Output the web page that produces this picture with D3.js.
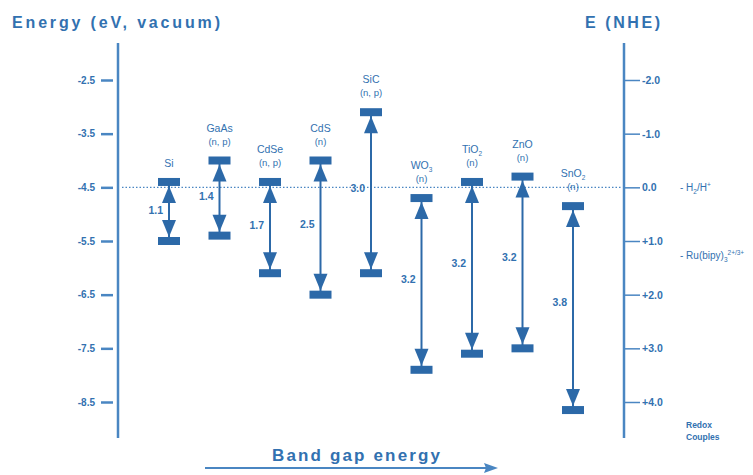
<!DOCTYPE html>
<html>
<head>
<meta charset="utf-8">
<script src="https://cdn.jsdelivr.net/npm/d3@7"></script>
<style>
  body { margin: 0; background: #fff; }
  svg { display: block; }
</style>
</head>
<body>
<svg id="chart" width="753" height="475"></svg>
<script>
// Semiconductor band edges on the vacuum scale (eV)
const materials = ["Si", "GaAs", "CdSe", "CdS", "SiC", "WO3", "TiO2", "ZnO", "SnO2"];
const carriers = ["", "(n, p)", "(n, p)", "(n)", "(n, p)", "(n)", "(n)", "(n)", "(n)"];
const conductionBand = [-4.4, -4.0, -4.4, -4.0, -3.1, -4.7, -4.4, -4.3, -4.85];
const bandGap = [1.1, 1.4, 1.7, 2.5, 3.0, 3.2, 3.2, 3.2, 3.8];

// Axis ticks
const vacuumTicks = [-2.5, -3.5, -4.5, -5.5, -6.5, -7.5, -8.5];
const nheTicks = [-2, -1, 0, 1, 2, 3, 4];
const nheTickLabels = ["-2.0", "-1.0", "0.0", "+1.0", "+2.0", "+3.0", "+4.0"];

// Reference redox couples (V vs NHE)
const redoxNames = ["H2/H+", "Ru(bipy)3"];
const redoxPotentials = [0, 1.26];

const blue = "#2c69a8";
const textBlue = "#3271b0";
const lineBlue = "#4a86c2";
const font = "'Liberation Sans', Arial, sans-serif";

const svg = d3.select("#chart").style("font-family", font);

const yVac = d3.scaleLinear().domain([-2.5, -8.5]).range([80, 402]);
const yNhe = d3.scaleLinear().domain([-2, 4]).range([80, 402]);
const x = d3.scalePoint().domain(materials).range([169, 573]);

// Titles
svg.append("text").attr("x", 12).attr("y", 28)
  .attr("textLength", 208).attr("lengthAdjust", "spacing")
  .attr("font-size", 16).attr("font-weight", "bold").attr("fill", textBlue)
  .text("Energy (eV, vacuum)");
svg.append("text").attr("x", 585).attr("y", 28)
  .attr("textLength", 75).attr("lengthAdjust", "spacing")
  .attr("font-size", 16).attr("font-weight", "bold").attr("fill", textBlue)
  .text("E (NHE)");

// Left (vacuum) axis
const left = svg.append("g").attr("transform", "translate(113,0)")
  .call(d3.axisLeft(yVac).tickValues(vacuumTicks).tickSize(12).tickPadding(6)
    .tickFormat(d => d.toFixed(1)));
left.select(".domain").remove();
left.selectAll(".tick line").attr("stroke", lineBlue).attr("stroke-width", 2.5);
left.selectAll(".tick text").attr("fill", textBlue).attr("font-size", 10)
  .attr("font-weight", "bold").attr("font-family", font);
svg.append("line").attr("x1", 118).attr("x2", 118).attr("y1", 43).attr("y2", 438)
  .attr("stroke", lineBlue).attr("stroke-width", 2.5);

// Right (NHE) axis
const right = svg.append("g").attr("transform", "translate(625,0)")
  .call(d3.axisRight(yNhe).tickValues(nheTicks).tickSize(15).tickPadding(2)
    .tickFormat((d, i) => nheTickLabels[i]));
right.select(".domain").remove();
right.selectAll(".tick line").attr("stroke", lineBlue).attr("stroke-width", 1.5);
right.selectAll(".tick text").attr("fill", textBlue).attr("font-size", 10.5)
  .attr("font-weight", "bold").attr("font-family", font);
svg.append("line").attr("x1", 624).attr("x2", 624).attr("y1", 43).attr("y2", 438)
  .attr("stroke", lineBlue).attr("stroke-width", 2.5);

// H2/H+ reference level
svg.append("line").attr("x1", 122).attr("x2", 622)
  .attr("y1", yNhe(0)).attr("y2", yNhe(0))
  .attr("stroke", lineBlue).attr("stroke-width", 1.2).attr("stroke-dasharray", "1.5,2");

// Redox couple labels
function richText(sel, parts) {
  parts.forEach(p => {
    const t = sel.append("tspan").text(p.t);
    if (p.sub) t.attr("font-size", "0.65em").attr("dy", 3);
    if (p.sup) t.attr("font-size", "0.65em").attr("dy", -4);
    if (p.reset) t.attr("dy", p.reset);
  });
}
const redoxParts = [
  [{ t: "- H" }, { t: "2", sub: true }, { t: "/H", reset: -3 }, { t: "+", sup: true }],
  [{ t: "- Ru(bipy)" }, { t: "3", sub: true }, { t: "2+/3+", sup: true, reset: -7 }]
];
redoxPotentials.forEach((v, i) => {
  const t = svg.append("text").attr("x", 680).attr("y", yNhe(v) + 4)
    .attr("font-size", 10).attr("fill", textBlue);
  richText(t, redoxParts[i]);
});
svg.append("text").attr("x", 686).attr("y", 428).attr("font-size", 8.5)
  .attr("font-weight", "bold").attr("fill", textBlue).text("Redox");
svg.append("text").attr("x", 686).attr("y", 440).attr("font-size", 8.5)
  .attr("font-weight", "bold").attr("fill", textBlue).text("Couples");

// Band diagrams
const bands = materials.map((m, i) => ({
  name: m, carrier: carriers[i], cb: conductionBand[i], gap: bandGap[i],
  vb: +(conductionBand[i] - bandGap[i]).toFixed(2)
}));

const barW = 22, barH = 8, triW = 14, triH = 17;
const g = svg.append("g").selectAll("g").data(bands).join("g")
  .attr("transform", d => `translate(${x(d.name)},0)`);

g.append("line").attr("x1", 0).attr("x2", 0)
  .attr("y1", d => yVac(d.cb)).attr("y2", d => yVac(d.vb))
  .attr("stroke", blue).attr("stroke-width", 2);

g.append("rect").attr("x", -barW / 2).attr("width", barW).attr("height", barH)
  .attr("y", d => yVac(d.cb) - barH / 2).attr("fill", blue);
g.append("rect").attr("x", -barW / 2).attr("width", barW).attr("height", barH)
  .attr("y", d => yVac(d.vb) - barH / 2).attr("fill", blue);

g.append("path").attr("fill", blue).attr("d", d => {
  const t = yVac(d.cb) + barH / 2;
  return `M0,${t}L${triW / 2},${t + triH}L${-triW / 2},${t + triH}Z`;
});
g.append("path").attr("fill", blue).attr("d", d => {
  const t = yVac(d.vb) - barH / 2;
  return `M0,${t}L${triW / 2},${t - triH}L${-triW / 2},${t - triH}Z`;
});

// Gap value next to each arrow
g.append("text").attr("x", -6).attr("text-anchor", "end")
  .attr("y", d => yVac(d.cb) + (yVac(d.vb) - yVac(d.cb)) * 0.47 + 4)
  .attr("font-size", 10.5).attr("font-weight", "bold").attr("fill", textBlue)
  .text(d => d.gap.toFixed(1));

// Material name and carrier type above the conduction band
g.each(function (d) {
  const top = yVac(d.cb) - barH / 2;
  const gg = d3.select(this);
  const nameY = d.carrier ? top - 25 : top - 11;
  const t = gg.append("text").attr("y", nameY).attr("text-anchor", "middle")
    .attr("font-size", 10.5).attr("fill", textBlue);
  const m = d.name.match(/^([A-Za-z]+)(\d?)$/);
  t.append("tspan").text(m[1]);
  if (m[2]) t.append("tspan").attr("font-size", 6.5).attr("dy", 3).text(m[2]);
  if (d.carrier) {
    gg.append("text").attr("y", top - 12).attr("text-anchor", "middle")
      .attr("font-size", 9.5).attr("fill", textBlue).text(d.carrier);
  }
});

// Band gap energy direction
svg.append("text").attr("x", 272).attr("y", 461)
  .attr("textLength", 168).attr("lengthAdjust", "spacing")
  .attr("font-size", 17).attr("font-weight", "bold").attr("fill", textBlue)
  .text("Band gap energy");
svg.append("line").attr("x1", 205).attr("x2", 494).attr("y1", 468).attr("y2", 468)
  .attr("stroke", lineBlue).attr("stroke-width", 2);
svg.append("path").attr("fill", lineBlue)
  .attr("d", "M498,468L484,463L486,468L484,473Z");
</script>
</body>
</html>
